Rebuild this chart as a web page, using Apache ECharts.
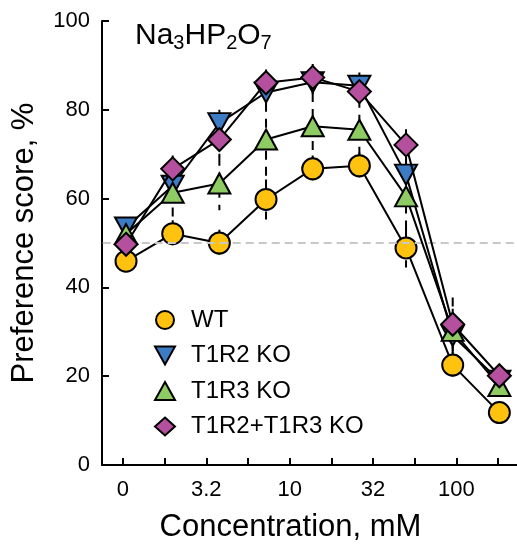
<!DOCTYPE html>
<html>
<head>
<meta charset="utf-8">
<script src="https://cdn.jsdelivr.net/npm/echarts@6/dist/echarts.min.js"></script>
<style>
  html, body { margin: 0; padding: 0; background: #fff; }
  #chart { width: 517px; height: 549px; }
</style>
</head>
<body>
<div id="chart"></div>
<script>
// Concentration axis labels (every other tick is labelled)
const tickLabels = ['0', '', '3.2', '', '10', '', '32', '', '100', ''];
// Dose steps where preference was measured
const doseSteps = ['s1', 's2', 's3', 's4', 's5', 's6', 's7', 's8', 's9'];

// Mean preference score (%) per genotype
const wt      = [45.9, 52.1, 50.0, 59.8, 66.7, 67.4, 48.9, 22.5, 11.8];
const t1r2    = [53.5, 62.9, 77.0, 83.9, 86.2, 85.4, 65.4, 29.1, 19.0];
const t1r3    = [52.0, 61.3, 63.4, 73.3, 76.3, 75.5, 60.5, 30.2, 17.8];
const t1r2r3  = [49.7, 66.7, 73.3, 86.1, 87.3, 84.1, 72.1, 31.7, 20.1];

// Standard error of the mean
const wtErr     = [2.0, 3.0, 3.0, 4.5, 3.0, 3.0, 4.4, 3.0, 2.0];
const t1r2Err   = [2.0, 3.0, 3.0, 3.0, 3.0, 3.0, 4.0, 4.0, 2.0];
const t1r3Err   = [2.0, 7.5, 6.0, 8.3, 7.5, 7.0, 9.0, 5.0, 2.0];
const t1r2r3Err = [2.0, 3.0, 4.0, 3.0, 3.0, 3.0, 3.5, 6.0, 2.0];

const seriesNames = ['WT', 'T1R2 KO', 'T1R3 KO', 'T1R2+T1R3 KO'];
const chanceLevel = 50;

const FONT = "'Liberation Sans', Arial, Helvetica, sans-serif";
const invTriangle = 'path://M0,0L20,0L10,18Z';

const groups = [
  { name: seriesNames[0], data: wt,     err: wtErr,     color: '#FFC20E', symbol: 'circle',    size: 21 },
  { name: seriesNames[1], data: t1r2,   err: t1r2Err,   color: '#3C7CC4', symbol: invTriangle, size: [22, 20] },
  { name: seriesNames[2], data: t1r3,   err: t1r3Err,   color: '#8FCB63', symbol: 'triangle',  size: [22, 20] },
  { name: seriesNames[3], data: t1r2r3, err: t1r2r3Err, color: '#B5509F', symbol: 'diamond',   size: [23, 23] }
];

function errorBarItem(params, api) {
  const x = api.value(0), m = api.value(1), e = api.value(2);
  const top = api.coord([x, m + e]);
  const bot = api.coord([x, m - e]);
  return {
    type: 'line',
    shape: { x1: top[0], y1: top[1], x2: bot[0], y2: bot[1] },
    style: { stroke: '#000', lineWidth: 2, lineDash: [9, 7] }
  };
}

// Data live on grid 1 (dose steps); grid 0 carries the visible axes
const series = [];
groups.forEach(function (g) {
  series.push({
    type: 'custom',
    name: g.name + ' SEM',
    xAxisIndex: 1,
    yAxisIndex: 1,
    renderItem: errorBarItem,
    data: g.data.map(function (v, i) { return [i, v, g.err[i]]; }),
    z: 1,
    silent: true
  });
});
groups.forEach(function (g, k) {
  const s = {
    type: 'line',
    name: g.name,
    xAxisIndex: 1,
    yAxisIndex: 1,
    data: g.data,
    symbol: g.symbol,
    symbolSize: g.size,
    showAllSymbol: true,
    itemStyle: { color: g.color, borderColor: '#000', borderWidth: 2 },
    lineStyle: { color: '#000', width: 2 },
    emphasis: { disabled: true },
    z: 3 + k
  };
  if (k === 0) {
    s.markLine = {
      silent: true,
      symbol: 'none',
      label: { show: false },
      lineStyle: { color: '#c8c8c8', type: [8, 5], width: 2 },
      data: [{ yAxis: chanceLevel }]
    };
  }
  series.push(s);
});

const chart = echarts.init(document.getElementById('chart'), null, { renderer: 'canvas' });
chart.setOption({
  animation: false,
  backgroundColor: '#fff',
  textStyle: { fontFamily: FONT },
  title: {
    text: '{b|Na}{s|3}{b|HP}{s|2}{b|O}{s|7}',
    left: 130,
    top: 14,
    textStyle: {
      rich: {
        b: { fontSize: 30, fontWeight: 'normal', fontFamily: FONT, color: '#000' },
        s: { fontSize: 20, fontWeight: 'normal', fontFamily: FONT, color: '#000', padding: [14, 0, 0, 0] }
      }
    }
  },
  legend: {
    orient: 'vertical',
    left: 149,
    top: 303,
    itemWidth: 20,
    itemHeight: 18,
    itemGap: 11.5,
    selectedMode: false,
    textStyle: { fontSize: 24, color: '#000', fontFamily: FONT, padding: [0, 0, 0, 11] },
    data: [
      { name: seriesNames[0], icon: 'circle' },
      { name: seriesNames[1], icon: invTriangle },
      { name: seriesNames[2], icon: 'triangle' },
      { name: seriesNames[3], icon: 'diamond' }
    ]
  },
  grid: [
    { left: 102, top: 21, width: 417, bottom: 84, outerBoundsMode: 'none' },
    { left: 102.7, top: 21, width: 420, bottom: 84, outerBoundsMode: 'none' }
  ],
  xAxis: [
    {
      type: 'category',
      gridIndex: 0,
      data: tickLabels,
      boundaryGap: true,
      position: 'bottom',
      axisLine: { show: true, lineStyle: { color: '#000', width: 2 } },
      axisTick: { show: true, inside: true, alignWithLabel: true, interval: 0, length: 7, lineStyle: { color: '#000', width: 2 } },
      axisLabel: { interval: 0, fontSize: 22, color: '#000', margin: 14, fontFamily: FONT },
      splitLine: { show: false },
      name: 'Concentration, mM',
      nameLocation: 'middle',
      nameGap: 47,
      nameTextStyle: { fontSize: 31, color: '#000', fontFamily: FONT, padding: [0, 40, 0, 0] }
    },
    {
      type: 'category',
      gridIndex: 1,
      data: doseSteps,
      boundaryGap: true,
      show: false
    }
  ],
  yAxis: [
    {
      type: 'value',
      gridIndex: 0,
      min: 0,
      max: 100,
      interval: 20,
      axisLine: { show: true, lineStyle: { color: '#000', width: 2 } },
      axisTick: { show: true, inside: true, length: 7, lineStyle: { color: '#000', width: 2 } },
      axisLabel: { fontSize: 22, color: '#000', margin: 12, fontFamily: FONT },
      splitLine: { show: false },
      name: 'Preference score, %',
      nameLocation: 'middle',
      nameGap: 62,
      nameTextStyle: { fontSize: 31, color: '#000', fontFamily: FONT }
    },
    {
      type: 'value',
      gridIndex: 1,
      min: 0,
      max: 100,
      show: false,
      splitLine: { show: false }
    }
  ],
  series: series
});
</script>
</body>
</html>
